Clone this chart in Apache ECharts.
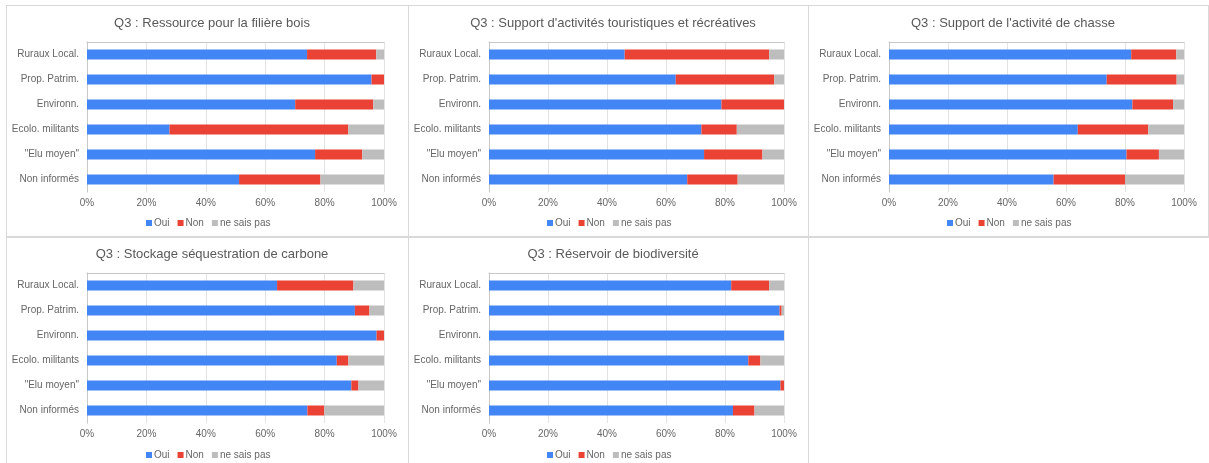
<!DOCTYPE html>
<html><head><meta charset="utf-8">
<script src="https://cdn.jsdelivr.net/npm/echarts@6/dist/echarts.min.js"></script>
<style>
html,body{margin:0;padding:0;background:#fff;}
#c{position:absolute;left:0;top:0;width:1209px;height:463px;}
.ln{position:absolute;background:#d9d9d9;pointer-events:none;}
</style></head>
<body>
<div id="c"></div>
<div class="ln" style="left:6px;top:5px;width:1203px;height:1px"></div>
<div class="ln" style="left:6px;top:236px;width:1203px;height:2px"></div>
<div class="ln" style="left:6px;top:5px;width:1px;height:458px"></div>
<div class="ln" style="left:408px;top:5px;width:1px;height:458px"></div>
<div class="ln" style="left:808px;top:5px;width:1px;height:458px"></div>
<div class="ln" style="left:1208px;top:5px;width:1px;height:232px"></div>
<script>
const categories = ['Ruraux Local.', 'Prop. Patrim.', 'Environn.', 'Ecolo. militants', '"Elu moyen"', 'Non informés'];
const seriesNames = ['Oui', 'Non', 'ne sais pas'];
const xTicks = [0, 20, 40, 60, 80, 100];
const titles = [
  'Q3 : Ressource pour la filière bois',
  "Q3 : Support d'activités touristiques et récréatives",
  "Q3 : Support de l'activité de chasse",
  'Q3 : Stockage séquestration de carbone',
  'Q3 : Réservoir de biodiversité'
];
// values per panel: [Oui], [Non], [ne sais pas] in % per category
const boisOui = [74.1, 95.8, 70.1, 27.8, 76.8, 51.2];
const boisNon = [23.3, 4.2, 26.3, 60.2, 15.9, 27.4];
const boisNsp = [2.6, 0, 3.6, 12.0, 7.3, 21.4];
const tourOui = [46.0, 63.3, 78.8, 72.0, 72.9, 67.2];
const tourNon = [49.0, 33.4, 21.2, 12.0, 19.8, 17.1];
const tourNsp = [5.0, 3.3, 0, 16.0, 7.3, 15.7];
const chasseOui = [82.1, 73.8, 82.5, 64.0, 80.5, 55.8];
const chasseNon = [15.3, 23.7, 13.8, 23.9, 11.0, 24.2];
const chasseNsp = [2.6, 2.5, 3.7, 12.1, 8.5, 20.0];
const carboneOui = [64.0, 90.2, 97.5, 84.1, 89.0, 74.2];
const carboneNon = [25.7, 4.9, 2.5, 3.9, 2.4, 5.7];
const carboneNsp = [10.3, 4.9, 0, 12.0, 8.6, 20.1];
const biodivOui = [82.1, 98.5, 100, 87.9, 98.8, 82.7];
const biodivNon = [12.9, 0.7, 0, 4.1, 1.2, 7.3];
const biodivNsp = [5.0, 0.8, 0, 8.0, 0, 10.0];

const panelData = [
  [boisOui, boisNon, boisNsp],
  [tourOui, tourNon, tourNsp],
  [chasseOui, chasseNon, chasseNsp],
  [carboneOui, carboneNon, carboneNsp],
  [biodivOui, biodivNon, biodivNsp]
];
const colors = ['#4285F4', '#EA4335', '#BDBDBD'];
const txt = '#666666';
const font = 'Liberation Sans, Arial, sans-serif';

// layout (pixels)
const grids = [
  {left: 87, top: 42, width: 297, height: 150},
  {left: 489, top: 42, width: 295, height: 150},
  {left: 889, top: 42, width: 295, height: 150},
  {left: 87, top: 273, width: 297, height: 150},
  {left: 489, top: 273, width: 295, height: 150}
];
const panelCenters = [207, 608, 1008, 207, 608];
const titleTops = [12, 12, 12, 243, 243];
const legendTops = [213, 213, 213, 445, 445];

const option = {
  animation: false,
  color: colors,
  textStyle: {fontFamily: font},
  title: titles.map((t, i) => ({
    text: t, left: panelCenters[i], top: titleTops[i], textAlign: 'center',
    textStyle: {fontSize: 13, fontWeight: 'normal', color: '#595959', fontFamily: font}
  })),
  legend: titles.map((t, i) => ({
    data: seriesNames, left: panelCenters[i] - 66, top: legendTops[i],
    icon: 'rect', itemWidth: 6, itemHeight: 6, itemGap: 8,
    textStyle: {fontSize: 10, color: txt, fontFamily: font, padding: [0, 0, 0, -3]},
    selectedMode: false
  })),
  grid: grids.map(g => Object.assign({containLabel: false}, g)),
  xAxis: [],
  yAxis: [],
  series: []
};
grids.forEach((g, i) => {
  option.xAxis.push({
    type: 'value', gridIndex: i, min: 0, max: 100, interval: 20,
    axisLabel: {formatter: '{value}%', fontSize: 10, color: txt, margin: 6, fontFamily: font},
    axisLine: {show: false}, axisTick: {show: false},
    splitLine: {lineStyle: {color: '#e3e3e3', width: 1}}
  });
  option.xAxis.push({
    type: 'value', gridIndex: i, min: 0, max: 100, position: 'top',
    axisLabel: {show: false}, axisTick: {show: false}, splitLine: {show: false},
    axisLine: {show: true, lineStyle: {color: '#c8c8c8'}}
  });
  option.yAxis.push({
    type: 'category', gridIndex: i, data: categories, inverse: true,
    axisLabel: {fontSize: 10, color: txt, margin: 8, fontFamily: font},
    axisLine: {show: true, lineStyle: {color: '#e3e3e3'}}, axisTick: {show: false}
  });
  option.yAxis.push({
    type: 'category', gridIndex: i, data: categories, inverse: true, position: 'right',
    axisLabel: {show: false}, axisTick: {show: false},
    axisLine: {show: true, lineStyle: {color: '#c8c8c8'}}
  });
  seriesNames.forEach((name, k) => {
    option.series.push({
      type: 'bar', name: name, stack: 'p' + i,
      xAxisIndex: i * 2, yAxisIndex: i * 2,
      barWidth: 10, data: panelData[i][k],
      itemStyle: {color: colors[k]}
    });
  });
});
const chart = echarts.init(document.getElementById('c'), null, {renderer: 'canvas'});
chart.setOption(option);
</script>
</body></html>
